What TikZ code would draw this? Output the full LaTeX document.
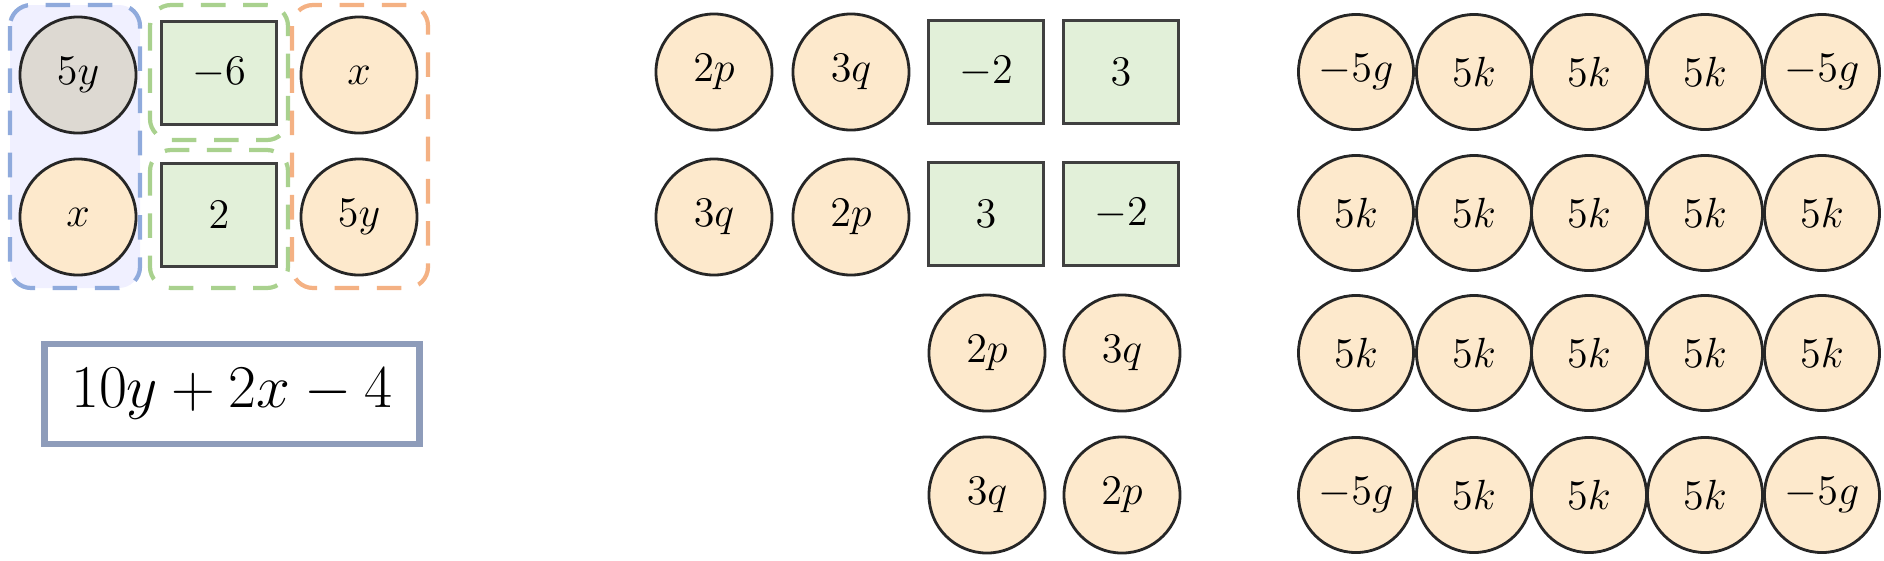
\documentclass[tikz,border=0pt]{standalone}
\begin{document}
\definecolor{orf}{HTML}{FDE9CC}
\definecolor{grf}{HTML}{DDD9D2}
\definecolor{gnf}{HTML}{E2F0D9}
\definecolor{bld}{HTML}{8FAADC}
\definecolor{gnd}{HTML}{A9D18E}
\definecolor{ord}{HTML}{F4B183}
\definecolor{fbd}{HTML}{8E9CBA}
\begin{tikzpicture}[x=0.01cm,y=-0.01cm,
  tile/.style={font=\fontsize{12.5}{14}\selectfont, inner sep=0pt},
  ball/.style={tile,circle,draw=black!85,line width=0.8pt,fill=orf,minimum size=1.16cm},
  sq/.style={tile,rectangle,draw=black!75,line width=0.9pt,fill=gnf,minimum width=1.15cm,minimum height=1.03cm},
  grp/.style={dashed,line width=1.2pt,dash pattern=on 7pt off 5pt,rounded corners=6pt}]
\useasboundingbox (0,0) rectangle (1884,560);
% group boxes
\draw[grp,draw=bld,fill=blue!6] (10,5) rectangle (140,288);
\draw[grp,draw=gnd] (150,5) rectangle (288,140);
\draw[grp,draw=gnd] (150,150) rectangle (288,288);
\draw[grp,draw=ord] (292,5) rectangle (428,288);
\node[ball,fill=grf] (a1) at (78,75) {$5y$};
\node[ball] (a2) at (78,217) {$x$};
\node[sq] (a3) at (219,73) {$-6$};
\node[sq] (a4) at (219,215) {$2$};
\node[ball] (a5) at (359,75) {$x$};
\node[ball] (a6) at (359,217) {$5y$};
\node[draw=fbd,line width=1.8pt,minimum width=3.75cm,minimum height=1.0cm,font=\fontsize{17}{20}\selectfont] (f) at (232,394) {$10y+2x-4$};
% middle
\node[ball] (m1) at (714,72) {$2p$};
\node[ball] (m2) at (851,72) {$3q$};
\node[sq] (m3) at (986,72) {$-2$};
\node[sq] (m4) at (1121,72) {$3$};
\node[ball] (m5) at (714,217) {$3q$};
\node[ball] (m6) at (851,217) {$2p$};
\node[sq] (m7) at (986,214) {$3$};
\node[sq] (m8) at (1121,214) {$-2$};
\node[ball] (m9) at (987,353) {$2p$};
\node[ball] (m10) at (1122,353) {$3q$};
\node[ball] (m11) at (987,495) {$3q$};
\node[ball] (m12) at (1122,495) {$2p$};
% right grid
\foreach \r/\y in {1/72,2/213,3/353,4/495}{
  \foreach \c/\x in {1/1356,2/1474,3/1589,4/1705,5/1822}{
    \pgfmathtruncatemacro{\g}{(\r==1 || \r==4) && (\c==1 || \c==5)}
    \ifnum\g=1
      \node[ball,minimum size=1.15cm] (r\r\c) at (\x,\y) {$-5g$};
    \else
      \node[ball,minimum size=1.15cm] (r\r\c) at (\x,\y) {$5k$};
    \fi
  }
}
\end{tikzpicture}
\end{document}
